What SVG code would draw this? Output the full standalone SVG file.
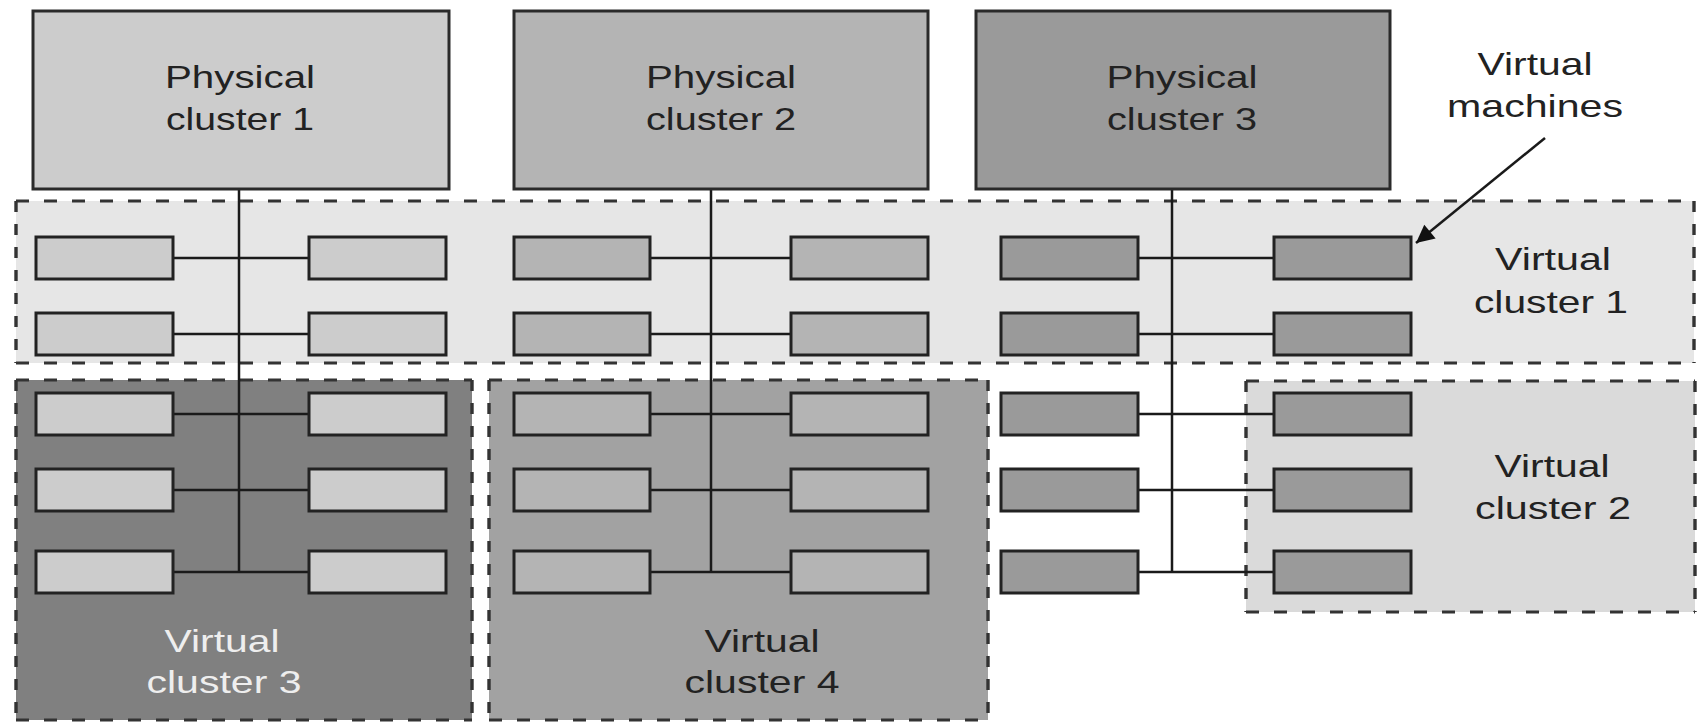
<svg xmlns="http://www.w3.org/2000/svg" width="1700" height="722" viewBox="0 0 1700 722">
  <defs>
    <style>
      .pc { stroke: #2a2a2a; stroke-width: 3; }
      .vm { stroke: #222222; stroke-width: 3; }
      .tone1 { fill: #cccccc; }
      .tone2 { fill: #b4b4b4; }
      .tone3 { fill: #9a9a9a; }
      .dash-h { fill: none; stroke: #333333; stroke-width: 3; stroke-dasharray: 13 15; }
      .dash-v { fill: none; stroke: #333333; stroke-width: 3.4; stroke-dasharray: 11 12; }
      .wire { stroke: #1a1a1a; stroke-width: 2.5; fill: none; }
      .label { font-family: "Liberation Sans", Arial, sans-serif; font-size: 32px; fill: #222222; text-anchor: middle; }
      .label-light { fill: #eeeeee; }
    </style>
    <marker id="arrowhead" viewBox="0 0 10 10" refX="10" refY="5" markerWidth="24" markerHeight="18" markerUnits="userSpaceOnUse" orient="auto">
      <path d="M0,0 L10,5 L0,10 z" fill="#111111"/>
    </marker>
  </defs>

  <rect x="0" y="0" width="1700" height="722" fill="#ffffff"/>

  <!-- virtual cluster regions (backgrounds + dashed borders) -->
  <g id="virtual-cluster-1">
    <rect x="16" y="201" width="1678" height="162" fill="#e6e6e6"/>
    <path class="dash-h" d="M16,201 H1694 M16,363 H1694"/>
    <path class="dash-v" d="M16,201 V363 M1694,201 V363"/>
    <text class="label" x="1553" y="270" textLength="116" lengthAdjust="spacingAndGlyphs">Virtual</text>
    <text class="label" x="1551" y="313" textLength="154" lengthAdjust="spacingAndGlyphs">cluster 1</text>
  </g>

  <g id="virtual-cluster-2">
    <rect x="1246" y="381" width="449" height="231" fill="#dadada"/>
    <path class="dash-h" d="M1246,381 H1695 M1246,612 H1695"/>
    <path class="dash-v" d="M1246,381 V612 M1695,381 V612"/>
    <text class="label" x="1552" y="477" textLength="115" lengthAdjust="spacingAndGlyphs">Virtual</text>
    <text class="label" x="1553" y="519" textLength="156" lengthAdjust="spacingAndGlyphs">cluster 2</text>
  </g>

  <g id="virtual-cluster-3">
    <rect x="16" y="380" width="456" height="340" fill="#808080"/>
    <path class="dash-h" d="M16,380 H472 M16,720 H472"/>
    <path class="dash-v" d="M16,380 V720 M472,380 V720"/>
    <text class="label label-light" x="222" y="652" textLength="115" lengthAdjust="spacingAndGlyphs">Virtual</text>
    <text class="label label-light" x="224" y="693" textLength="155" lengthAdjust="spacingAndGlyphs">cluster 3</text>
  </g>

  <g id="virtual-cluster-4">
    <rect x="489" y="380" width="499" height="340" fill="#a2a2a2"/>
    <path class="dash-h" d="M489,380 H988 M489,720 H988"/>
    <path class="dash-v" d="M489,380 V720 M988,380 V720"/>
    <text class="label" x="762" y="652" textLength="115" lengthAdjust="spacingAndGlyphs">Virtual</text>
    <text class="label" x="762" y="693" textLength="155" lengthAdjust="spacingAndGlyphs">cluster 4</text>
  </g>

  <!-- links from each physical cluster to its virtual machines -->
  <g id="connectors">
    <path class="wire" d="M239,189 V572 M711,189 V572 M1172,189 V572"/>
    <path class="wire" d="M173,258 H309 M173,334 H309 M173,414 H309 M173,490 H309 M173,572 H309"/>
    <path class="wire" d="M650,258 H791 M650,334 H791 M650,414 H791 M650,490 H791 M650,572 H791"/>
    <path class="wire" d="M1138,258 H1274 M1138,334 H1274 M1138,414 H1274 M1138,490 H1274 M1138,572 H1274"/>
    <line class="wire" x1="1545" y1="138" x2="1416" y2="243" marker-end="url(#arrowhead)"/>
  </g>

  <!-- physical clusters -->
  <g id="physical-cluster-1">
    <rect class="pc tone1" x="33" y="11" width="416" height="178"/>
    <text class="label" x="240" y="88" textLength="150" lengthAdjust="spacingAndGlyphs">Physical</text>
    <text class="label" x="240" y="130" textLength="148" lengthAdjust="spacingAndGlyphs">cluster 1</text>
  </g>
  <g id="physical-cluster-2">
    <rect class="pc tone2" x="514" y="11" width="414" height="178"/>
    <text class="label" x="721" y="88" textLength="150" lengthAdjust="spacingAndGlyphs">Physical</text>
    <text class="label" x="721" y="130" textLength="150" lengthAdjust="spacingAndGlyphs">cluster 2</text>
  </g>
  <g id="physical-cluster-3">
    <rect class="pc tone3" x="976" y="11" width="414" height="178"/>
    <text class="label" x="1182" y="88" textLength="151" lengthAdjust="spacingAndGlyphs">Physical</text>
    <text class="label" x="1182" y="130" textLength="150" lengthAdjust="spacingAndGlyphs">cluster 3</text>
  </g>

  <!-- virtual machines hosted by physical cluster 1 -->
  <g id="vms-physical-1">
    <rect class="vm tone1" x="36" y="237" width="137" height="42"/>
    <rect class="vm tone1" x="309" y="237" width="137" height="42"/>
    <rect class="vm tone1" x="36" y="313" width="137" height="42"/>
    <rect class="vm tone1" x="309" y="313" width="137" height="42"/>
    <rect class="vm tone1" x="36" y="393" width="137" height="42"/>
    <rect class="vm tone1" x="309" y="393" width="137" height="42"/>
    <rect class="vm tone1" x="36" y="469" width="137" height="42"/>
    <rect class="vm tone1" x="309" y="469" width="137" height="42"/>
    <rect class="vm tone1" x="36" y="551" width="137" height="42"/>
    <rect class="vm tone1" x="309" y="551" width="137" height="42"/>
  </g>

  <!-- virtual machines hosted by physical cluster 2 -->
  <g id="vms-physical-2">
    <rect class="vm tone2" x="514" y="237" width="136" height="42"/>
    <rect class="vm tone2" x="791" y="237" width="137" height="42"/>
    <rect class="vm tone2" x="514" y="313" width="136" height="42"/>
    <rect class="vm tone2" x="791" y="313" width="137" height="42"/>
    <rect class="vm tone2" x="514" y="393" width="136" height="42"/>
    <rect class="vm tone2" x="791" y="393" width="137" height="42"/>
    <rect class="vm tone2" x="514" y="469" width="136" height="42"/>
    <rect class="vm tone2" x="791" y="469" width="137" height="42"/>
    <rect class="vm tone2" x="514" y="551" width="136" height="42"/>
    <rect class="vm tone2" x="791" y="551" width="137" height="42"/>
  </g>

  <!-- virtual machines hosted by physical cluster 3 -->
  <g id="vms-physical-3">
    <rect class="vm tone3" x="1001" y="237" width="137" height="42"/>
    <rect class="vm tone3" x="1274" y="237" width="137" height="42"/>
    <rect class="vm tone3" x="1001" y="313" width="137" height="42"/>
    <rect class="vm tone3" x="1274" y="313" width="137" height="42"/>
    <rect class="vm tone3" x="1001" y="393" width="137" height="42"/>
    <rect class="vm tone3" x="1274" y="393" width="137" height="42"/>
    <rect class="vm tone3" x="1001" y="469" width="137" height="42"/>
    <rect class="vm tone3" x="1274" y="469" width="137" height="42"/>
    <rect class="vm tone3" x="1001" y="551" width="137" height="42"/>
    <rect class="vm tone3" x="1274" y="551" width="137" height="42"/>
  </g>

  <g id="virtual-machines-label">
    <text class="label" x="1535" y="75" textLength="115" lengthAdjust="spacingAndGlyphs">Virtual</text>
    <text class="label" x="1535" y="117" textLength="176" lengthAdjust="spacingAndGlyphs">machines</text>
  </g>
</svg>
